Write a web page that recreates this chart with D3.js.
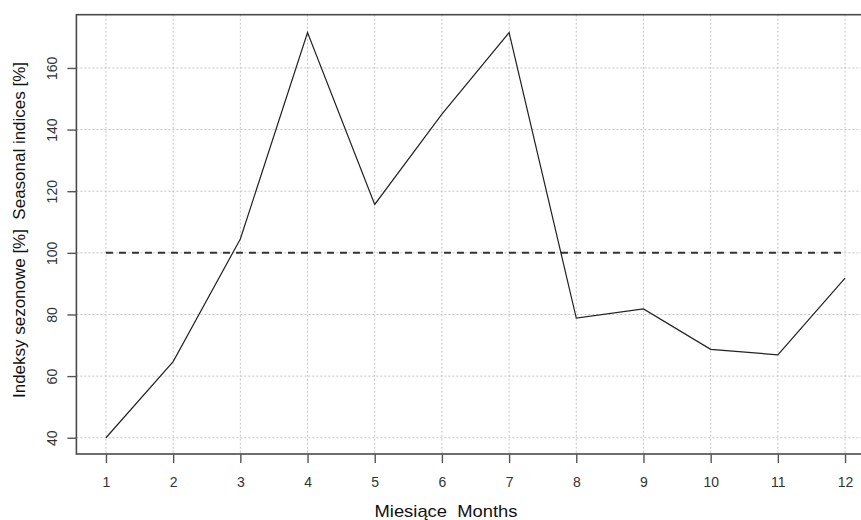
<!DOCTYPE html>
<html><head><meta charset="utf-8">
<script src="https://cdn.jsdelivr.net/npm/d3@7"></script>
<style>html,body{margin:0;padding:0;background:#fff;}svg{display:block;font-family:"Liberation Sans",Arial,sans-serif;}</style>
</head><body>
<script>
const months = [1,2,3,4,5,6,7,8,9,10,11,12];
const seasonalIndex = [40,64.7,104.5,171.5,115.7,145,171.5,78.8,81.8,68.7,66.9,91.8];
const referenceLevel = [100];
const xTickLabels = ["1","2","3","4","5","6","7","8","9","10","11","12"];
const yTickValues = [40,60,80,100,120,140,160];
const xTitle = "Miesiące\u00A0\u00A0Months";
const yTitle = "Indeksy sezonowe [%]\u00A0\u00A0Seasonal indices [%]";

(function(){
const W = 861, H = 520;
const svg = d3.select("body").append("svg").attr("width", W).attr("height", H);

const xMin = 1, xMax = 12, xPad = (xMax - xMin) * 0.04;
const yMin = 40, yMax = 172, yPad = (yMax - yMin) * 0.04;
const x = d3.scaleLinear().domain([xMin - xPad, xMax + xPad]).range([76.4, 874.6]);
const y = d3.scaleLinear().domain([yMin - yPad, yMax + yPad]).range([454, 14.7]);

const pTop = y.range()[1], pBottom = y.range()[0], pLeft = x.range()[0], pRight = x.range()[1];

// grid
const grid = svg.append("g");
grid.selectAll("line.v").data(months).join("line").attr("class","v")
  .attr("x1", d => x(d)).attr("x2", d => x(d)).attr("y1", pTop).attr("y2", pBottom)
  .attr("stroke", "#c4c4c4").attr("stroke-width", 1).attr("stroke-dasharray", "2,2");
grid.selectAll("line.h").data(yTickValues).join("line").attr("class","h")
  .attr("x1", pLeft).attr("x2", pRight).attr("y1", d => y(d)).attr("y2", d => y(d))
  .attr("stroke", "#c4c4c4").attr("stroke-width", 1).attr("stroke-dasharray", "2,2");

// reference line at 100
svg.append("line")
  .attr("x1", x(months[0])).attr("x2", x(months[months.length-1]))
  .attr("y1", y(referenceLevel[0])).attr("y2", y(referenceLevel[0]))
  .attr("stroke", "#333").attr("stroke-width", 2).attr("stroke-dasharray", "7,6");

// data line
const line = d3.line().x((d,i) => x(months[i])).y(d => y(d));
svg.append("path").datum(seasonalIndex).attr("d", line)
  .attr("fill", "none").attr("stroke", "#222").attr("stroke-width", 1.2);

// box
svg.append("rect").attr("x", pLeft).attr("y", pTop).attr("width", pRight - pLeft).attr("height", pBottom - pTop)
  .attr("fill", "none").attr("stroke", "#4a4a4a").attr("stroke-width", 1.6);

// x axis
const xAxis = d3.axisBottom(x).tickValues(months).tickFormat((d,i) => xTickLabels[i]).tickSize(9).tickPadding(14);
const gx = svg.append("g").attr("transform", `translate(0,${pBottom})`).call(xAxis);
gx.select(".domain").remove();
gx.selectAll(".tick line").attr("stroke", "#555").attr("stroke-width", 1.4);
gx.selectAll(".tick text").attr("fill", "#333").attr("font-size", 14).attr("font-family", "Liberation Sans, Arial, sans-serif");

// y axis
const yAxis = d3.axisLeft(y).tickValues(yTickValues).tickSize(9).tickFormat(d3.format("d"));
const gy = svg.append("g").attr("transform", `translate(${pLeft},0)`).call(yAxis);
gy.select(".domain").remove();
gy.selectAll(".tick line").attr("stroke", "#555").attr("stroke-width", 1.4);
gy.selectAll(".tick text")
  .attr("fill", "#333").attr("font-size", 14).attr("font-family", "Liberation Sans, Arial, sans-serif")
  .attr("x", null).attr("dy", null)
  .attr("text-anchor", "middle")
  .attr("transform", "translate(-19,0) rotate(-90)");

// titles
svg.append("text").attr("x", 446).attr("y", 517).attr("text-anchor", "middle")
  .attr("font-size", 17).attr("fill", "#111").attr("textLength", 143).attr("lengthAdjust", "spacingAndGlyphs")
  .text(xTitle);
svg.append("text").attr("transform", "translate(25,230) rotate(-90)").attr("text-anchor", "middle")
  .attr("font-size", 16.5).attr("fill", "#111").attr("textLength", 336).attr("lengthAdjust", "spacingAndGlyphs")
  .text(yTitle);
})();
</script>
</body></html>
